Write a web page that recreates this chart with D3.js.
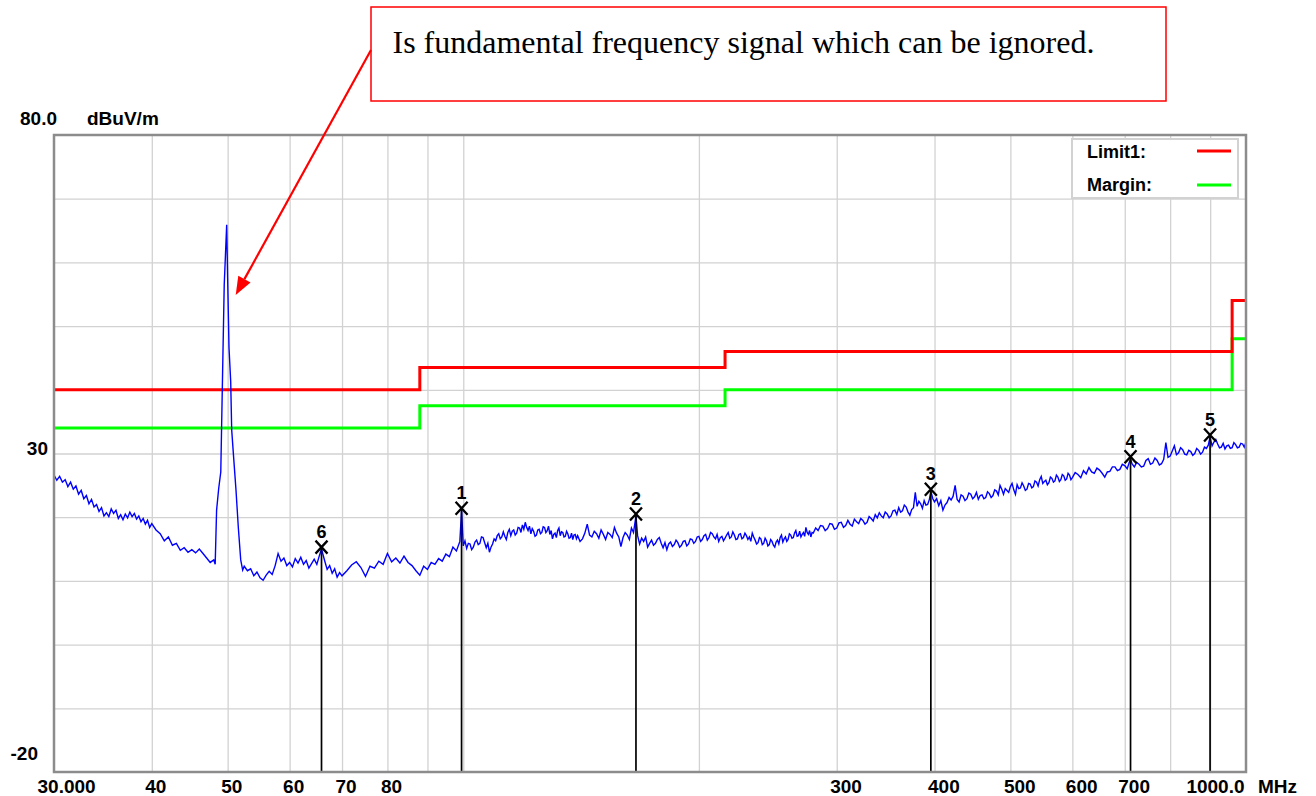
<!DOCTYPE html>
<html>
<head>
<meta charset="utf-8">
<script src="https://cdn.jsdelivr.net/npm/d3@7"></script>
<style>
	body { margin: 0; background: #fff; }
	svg { display: block; }
	.lbl { font-family: "Liberation Sans", Arial, sans-serif; font-weight: bold; font-size: 19px; fill: #000; }
	.grid line { stroke: #d2d2d2; stroke-width: 1.3; }
	.grid .domain { display: none; }
</style>
</head>
<body>
<svg width="1316" height="796"></svg>
<script>
'use strict';

// measured sweep, [MHz, dBuV/m]
var trace = [
	[30.00,26.6],[30.25,25.8],[30.50,26.4],[30.75,25.5],[31.00,25.9],[31.25,24.8],[31.50,25.5],[31.75,24.4],
	[32.00,24.9],[32.25,23.6],[32.50,24.2],[32.75,22.9],[33.00,23.4],[33.25,22.1],[33.50,22.8],[33.75,21.6],
	[34.00,22.0],[34.25,20.9],[34.50,21.5],[34.75,20.2],[35.00,20.7],[35.25,20.1],[35.50,21.3],[35.75,20.6],
	[36.00,21.1],[36.25,19.8],[36.50,20.4],[36.75,19.6],[37.00,20.5],[37.25,19.9],[37.50,20.8],[37.75,20.1],
	[38.00,20.6],[38.25,19.7],[38.50,20.2],[38.75,19.3],[39.00,19.8],[39.25,18.9],[39.50,19.5],[39.75,18.4],
	[40.0,19.0],[40.5,18.0],[41,17.4],[41.5,16.3],[42,16.9],[42.5,15.6],[43,15.9],[43.5,14.8],[44,15.2],
	[44.5,14.5],[45,14.9],[45.5,14.4],[46,15.0],[46.5,14.3],[47,13.6],[47.5,12.9],[48,13.3],[48.2,12.6],
	[48.4,21.1],[48.7,24.5],[49.0,27.1],[49.27,43.1],[49.5,56.5],[49.86,65.9],[50.0,57.5],[50.2,46.6],
	[50.45,41.3],[50.6,33.7],[50.84,30.1],[51.24,24.3],[51.6,18.3],[51.96,13.3],[52.26,11.7],
	[52.5,12.3],[53,11.6],[53.5,11.9],[54,10.8],[54.5,11.4],[55,10.5],[55.5,10.1],[56,10.9],[56.5,11.5],
	[57,11.0],[57.5,12.4],[58,14.3],[58.5,13.1],[59,13.6],[59.5,12.4],[60,12.9],[60.5,12.2],[61,13.5],
	[61.5,12.8],[62,13.7],[62.5,12.6],[63,13.2],[63.5,12.0],[64,12.7],[64.5,13.4],[65,12.6],[65.5,14.0],
	[65.9,15.0],[66.5,13.2],[67,11.8],[67.5,12.4],[68,11.2],[68.5,11.9],[69,10.6],[69.5,11.3],[70,10.8],
	[71,11.6],[72,12.5],[73,13.0],[74,12.1],[75,10.7],[76,12.3],[77,12.0],[78,13.1],[79,12.6],[80,14.3],
	[81,13.0],[82,13.6],[83,12.8],[84,13.9],[85,12.9],[86,12.4],[87,11.6],[88,10.9],[89,12.3],[90,11.8],
	[91,12.9],[92,12.6],[93,13.5],[94,13.1],[95,14.2],[96,13.8],[97,15.3],[98,14.7],[99,16.2],[99.5,21.1],
	[100,15.5],[100.5,16.3],[101,15.1],[101.5,15.9],[102,15.8],[102.5,14.9],[103,15.3],[103.5,16.1],
	[104,16.4],[104.5,15.7],[105,15.9],[105.5,16.9],[106,16.8],[106.5,16.0],[107,15.2],[107.5,15.9],
	[108,14.5],[108.5,15.3],[109,15.8],[109.5,16.6],[110,16.3],[110.5,17.1],[111,17.4],[111.5,16.6],
	[112,16.9],[112.5,17.7],[113,17.0],[113.5,16.5],[114,17.6],[114.5,18.1],[115,17.1],[115.5,17.8],
	[116,18.0],[116.5,17.2],[117,17.5],[117.5,18.4],[118,18.3],[118.5,17.6],[119,18.8],[119.5,18.1],
	[120,19.2],[120.5,18.4],[121,17.9],[121.5,18.6],[122,17.4],[122.5,18.2],[123,17.8],[123.5,17.0],
	[124,17.2],[124.5,18.0],[125,18.1],[125.5,17.4],[126,17.6],[126.5,18.5],[127,18.4],[127.5,17.6],
	[128,17.9],[128.5,18.6],[129,17.3],[129.5,17.9],[130,16.6],[130.5,17.3],[131,17.5],[131.5,16.8],
	[132,17.9],[132.5,18.3],[133,17.1],[133.5,17.7],[134,17.6],[134.5,16.9],[135,17.0],[135.5,17.8],
	[136,17.4],[136.5,16.7],[137,16.8],[137.5,17.5],[138,16.5],[138.5,17.2],[139,17.3],[139.5,16.6],
	[140,17.1],[141,16.2],[142,16.6],[143,17.5],[144,18.9],[145,17.2],[146,16.9],[147,17.8],[148,17.4],
	[149,16.7],[150,18.0],[151,17.3],[152,16.5],[153,17.6],[154,17.3],[155,16.8],[156,18.4],[157,17.5],
	[158,16.9],[159,15.4],[160,16.8],[161,17.6],[162,17.2],[163,16.5],[164,18.3],[165,17.6],[166.2,20.2],
	[167,17.1],[168,15.8],[169,16.7],[170,16.2],[171,16.9],[172,15.3],[173,15.9],[174,16.4],[175,15.6],
	[176,15.9],[177,16.5],[178,16.8],[179,15.9],[180,15.2],[181,16.0],[182,14.9],[183,15.8],[184,16.1],
	[185,15.4],[186,15.7],[187,16.4],[188,16.0],[189,15.3],[190,15.6],[191,16.2],[192,16.3],[193,15.5],
	[194,15.8],[195,16.6],[196,16.5],[197,15.9],[198,16.2],[199,16.9],[200,17.0],[201,16.2],[202,16.5],
	[203,17.1],[204,17.3],[205,16.4],[206,16.8],[207,17.6],[208,17.4],[209,16.9],[210,16.6],[211,17.3],
	[212,16.2],[213,16.8],[214,17.0],[215,16.3],[216,16.7],[217,17.2],[218,17.6],[219,16.7],[220,16.9],
	[221,17.7],[222,17.2],[223,16.5],[224,16.6],[225,17.3],[226,17.4],[227,16.6],[228,16.8],[229,17.5],
	[230,17.1],[231,16.5],[232,16.9],[233,16.2],[234,17.5],[235,16.9],[236,16.4],[237,15.8],[238,16.0],
	[239,16.8],[240,16.6],[241,15.7],[242,15.9],[243,16.7],[244,16.3],[245,15.5],[246,15.7],[247,16.5],
	[248,16.2],[249,15.6],[250,15.3],[251,16.1],[252,16.4],[253,15.8],[254,16.8],[255,17.2],[256,16.1],
	[257,16.6],[258,16.9],[259,16.2],[260,16.5],[261,17.4],[262,17.2],[263,16.7],[264,16.8],[265,17.5],
	[266,17.9],[267,17.0],[268,17.1],[269,17.8],[270,16.9],[271,17.3],[272,17.6],[273,17.0],[274,18.4],
	[275,17.6],[276,17.3],[277,17.9],[278,16.9],[279,17.6],[280,17.5],[282,18.3],[284,17.9],[286,18.7],
	[288,18.6],[290,17.9],[292,18.2],[294,19.0],[296,18.9],[298,18.1],[300,18.3],[302,19.1],[304,19.2],
	[306,18.4],[308,18.7],[310,19.5],[312,18.9],[314,18.6],[316,19.7],[318,19.3],[320,19.0],[322,19.8],
	[324,19.5],[326,18.9],[328,19.2],[330,20.1],[332,19.8],[334,19.4],[336,20.4],[338,19.9],[340,20.7],
	[342,20.2],[344,19.9],[346,20.8],[348,20.5],[350,19.9],[352,20.2],[354,21.0],[356,21.1],[358,20.4],
	[360,21.5],[362,20.8],[364,21.0],[366,21.9],[368,21.6],[370,20.8],[372,20.3],[374,21.2],[376,21.5],
	[378,23.9],[380,21.7],[382,22.5],[384,22.1],[386,21.4],[388,22.6],[390,21.9],[392,22.0],[394,22.8],
	[395.7,24.1],[398,22.9],[400,22.4],[402.5,22.9],[405,21.8],[407.5,22.6],[410,21.1],[412.5,21.9],
	[415,22.3],[417.5,23.1],[420,22.7],[422.5,23.3],[425,25.0],[427.5,22.8],[430,22.4],[432.5,23.5],
	[435,23.3],[437.5,22.6],[440,22.9],[442.5,23.8],[445,23.6],[447.5,22.9],[450,23.2],[452.5,23.9],
	[455,22.8],[457.5,23.4],[460,23.5],[462.5,22.9],[465,23.1],[467.5,24.0],[470,23.7],[472.5,23.1],
	[475,23.4],[477.5,24.3],[480,24.1],[482.5,23.5],[485,25.0],[487.5,24.4],[490,23.6],[492.5,24.5],
	[495,24.2],[497.5,23.9],[500,24.8],[502.5,25.3],[505,24.3],[507.5,23.6],[510,25.1],[512.5,24.5],
	[515,24.6],[517.5,25.4],[520,24.9],[522.5,24.2],[525,24.4],[527.5,25.3],[530,25.2],[532.5,24.6],
	[535,24.8],[537.5,25.7],[540,25.5],[542.5,24.9],[545,25.9],[547.5,26.4],[550,25.3],[552.5,25.6],
	[555,25.8],[557.5,25.1],[560,25.4],[562.5,26.3],[565,26.1],[567.5,25.5],[570,25.7],[572.5,26.6],
	[575,26.3],[577.5,25.6],[580,25.9],[582.5,26.7],[585,26.5],[587.5,25.8],[590,26.0],[592.5,26.9],
	[595,26.6],[597.5,25.9],[600,26.2],[605,27.0],[610,26.7],[615,26.2],[620,27.3],[625,26.8],[630,27.8],
	[635,27.1],[640,26.9],[645,27.7],[650,27.4],[655,26.9],[660,26.3],[665,27.1],[670,27.2],[675,27.9],
	[680,27.9],[685,27.3],[690,27.5],[695,28.3],[700,28.1],[705,27.6],[712,29.2],[715,28.4],[720,27.9],
	[725,28.6],[730,28.3],[735,27.9],[740,28.0],[745,28.9],[750,29.2],[755,28.3],[760,28.5],[765,29.3],
	[770,28.9],[775,28.2],[780,28.4],[785,29.1],[790,31.7],[795,29.4],[800,29.6],[805,30.4],[810,31.2],
	[815,29.8],[820,30.1],[825,30.9],[830,30.6],[835,29.9],[840,29.8],[845,30.5],[850,30.3],[855,29.7],
	[860,30.0],[865,30.8],[870,30.5],[875,29.9],[880,30.2],[885,31.0],[890,30.8],[895,31.3],[899.7,32.6],
	[905,31.2],[910,31.8],[915,32.2],[920,31.5],[925,30.9],[930,31.0],[935,31.6],[940,30.7],[945,31.2],
	[950,31.3],[955,30.8],[960,30.9],[965,31.7],[970,31.4],[975,30.9],[980,31.0],[985,31.6],[990,31.5],
	[995,31.0],[1000,31.8]
];

// limit (FCC class B) and margin steps
var limitFreq = [30, 88, 88, 216, 216, 960, 960, 1000];
var limitLevel = [40, 40, 43.5, 43.5, 46, 46, 54, 54];
var marginLevel = [34, 34, 37.5, 37.5, 40, 40, 48, 48];

// peak markers
var markerNo = ["1", "2", "3", "4", "5", "6"];
var markerFreq = [99.5, 166.2, 395.7, 712, 899.7, 65.9];
var markerLevel = [21.4, 20.5, 24.4, 29.5, 32.9, 15.3];

// axes
var gridFreq = [40, 50, 60, 70, 80, 90, 100, 200, 300, 400, 500, 600, 700, 800, 900];
var tickFreq = [30, 40, 50, 60, 70, 80, 300, 400, 500, 600, 700, 1000];
var tickText = ["30.000", "40", "50", "60", "70", "80", "300", "400", "500", "600", "700", "1000.0"];
var gridLevel = [-10, 0, 10, 20, 30, 40, 50, 60, 70];
var levelTick = [80, 30, -20];
var levelText = ["80.0", "30", "-20"];

var legendName = ["Limit1:", "Margin:"];
var legendColor = ["#ff0000", "#00ff00"];

// annotation pointing at the fundamental
var noteText = "Is fundamental frequency signal which can be ignored.";
var notePoint = [51.2, 54.9];

document.addEventListener('DOMContentLoaded', function() {

	var svg = d3.select("svg");
	var margin = {top: 135, right: 70, bottom: 24, left: 54};
	var width = +svg.attr("width") - margin.left - margin.right;
	var height = +svg.attr("height") - margin.top - margin.bottom;

	var x = d3.scaleLog().domain([30, 1000]).range([0, width]);
	var y = d3.scaleLinear().domain([-20, 80]).range([height, 0]);

	var g = svg.append("g")
		.attr("transform", "translate(" + margin.left + "," + margin.top + ")");

	// grid
	g.append("g")
		.attr("class", "grid")
		.attr("transform", "translate(0," + height + ")")
		.call(d3.axisBottom(x).tickValues(gridFreq).tickSize(-height).tickFormat(""));
	g.append("g")
		.attr("class", "grid")
		.call(d3.axisLeft(y).tickValues(gridLevel).tickSize(-width).tickFormat(""));

	// frequency labels
	var xa = g.append("g")
		.attr("transform", "translate(0," + height + ")")
		.call(d3.axisBottom(x).tickValues(tickFreq).tickSize(0)
			.tickFormat(function(d, i) { return tickText[i]; }));
	xa.select(".domain").remove();
	xa.selectAll("text")
		.attr("class", "lbl")
		.attr("font-family", null).attr("font-size", null)
		.attr("dy", null)
		.attr("y", 21)
		.attr("x", function(d) { return d === 1000 ? -2 : (d === 30 ? -17 : -7); })
		.attr("text-anchor", function(d) { return d === 1000 ? "end" : "start"; });
	svg.append("text")
		.attr("class", "lbl")
		.attr("x", margin.left + width + 12)
		.attr("y", margin.top + height + 21)
		.text("MHz");

	// level labels
	svg.selectAll(".ylab")
		.data(levelTick)
		.enter().append("text")
			.attr("class", "lbl ylab")
			.attr("x", function(d, i) { return i === 0 ? 20 : (i === 1 ? 48 : 38); })
			.attr("y", function(d, i) { return margin.top + y(d) + (i === 0 ? -10 : (i === 1 ? 1.5 : -12)); })
			.attr("text-anchor", function(d, i) { return i === 0 ? "start" : "end"; })
			.text(function(d, i) { return levelText[i]; });
	svg.append("text")
		.attr("class", "lbl")
		.attr("x", 87)
		.attr("y", margin.top + y(80) - 10)
		.text("dBuV/m");

	// limit and margin
	var step = d3.line()
		.x(function(d) { return x(d[0]); })
		.y(function(d) { return y(d[1]); });
	g.append("path")
		.datum(d3.zip(limitFreq, marginLevel))
		.attr("fill", "none")
		.attr("stroke", "#00ff00")
		.attr("stroke-width", 3)
		.attr("d", step);
	g.append("path")
		.datum(d3.zip(limitFreq, limitLevel))
		.attr("fill", "none")
		.attr("stroke", "#ff0000")
		.attr("stroke-width", 3)
		.attr("d", step);

	// trace
	g.append("path")
		.datum(trace)
		.attr("fill", "none")
		.attr("stroke", "#0000ff")
		.attr("stroke-width", 1.4)
		.attr("d", step);

	// markers
	var markers = d3.range(markerNo.length);
	var mk = g.selectAll(".mk")
		.data(markers)
		.enter().append("g")
			.attr("class", "mk")
			.attr("transform", function(i) {
				return "translate(" + x(markerFreq[i]) + "," + y(markerLevel[i]) + ")";
			});
	mk.append("line")
		.attr("x1", 0).attr("x2", 0)
		.attr("y1", 0)
		.attr("y2", function(i) { return height - y(markerLevel[i]); })
		.attr("stroke", "#000")
		.attr("stroke-width", 1.7);
	mk.append("path")
		.attr("d", "M-6,-6.5L6,6.5M-6,6.5L6,-6.5")
		.attr("stroke", "#000")
		.attr("stroke-width", 2.3);
	mk.append("text")
		.attr("class", "lbl")
		.style("font-size", "18px")
		.attr("y", -9)
		.attr("text-anchor", "middle")
		.text(function(i) { return markerNo[i]; });

	// legend
	var lg = svg.append("g").attr("transform", "translate(1072,139)");
	lg.append("rect")
		.attr("width", 166).attr("height", 59)
		.attr("fill", "#fff")
		.attr("stroke", "#d2d2d2")
		.attr("stroke-width", 2);
	legendName.forEach(function(n, i) {
		lg.append("text")
			.attr("class", "lbl")
			.style("font-size", "18px")
			.attr("x", 15)
			.attr("y", 19 + i * 33)
			.text(n);
		lg.append("line")
			.attr("x1", 125).attr("x2", 159)
			.attr("y1", 12 + i * 34).attr("y2", 12 + i * 34)
			.attr("stroke", legendColor[i])
			.attr("stroke-width", 3);
	});

	// plot border
	g.append("rect")
		.attr("width", width).attr("height", height)
		.attr("fill", "none")
		.attr("stroke", "#8c8c8c")
		.attr("stroke-width", 2.5);

	// annotation box and arrow
	svg.append("rect")
		.attr("x", 371).attr("y", 7)
		.attr("width", 795).attr("height", 94)
		.attr("fill", "#fff")
		.attr("stroke", "#ff0000")
		.attr("stroke-width", 1.5);
	svg.append("text")
		.attr("x", 392.5).attr("y", 53)
		.attr("font-family", "'Liberation Serif', 'Times New Roman', serif")
		.attr("font-size", 32)
		.attr("fill", "#000")
		.text(noteText);

	var sx = 371, sy = 50;
	var tx = margin.left + x(notePoint[0]), ty = margin.top + y(notePoint[1]);
	var len = Math.sqrt((tx - sx) * (tx - sx) + (ty - sy) * (ty - sy));
	var ux = (tx - sx) / len, uy = (ty - sy) / len;
	var bx = tx - 18 * ux, by = ty - 18 * uy;
	svg.append("line")
		.attr("x1", sx).attr("y1", sy)
		.attr("x2", bx).attr("y2", by)
		.attr("stroke", "#ff0000")
		.attr("stroke-width", 2.2);
	svg.append("path")
		.attr("d", "M" + tx + "," + ty +
			"L" + (bx - 7 * uy) + "," + (by + 7 * ux) +
			"L" + (bx + 7 * uy) + "," + (by - 7 * ux) + "Z")
		.attr("fill", "#ff0000");
});
</script>
</body>
</html>
